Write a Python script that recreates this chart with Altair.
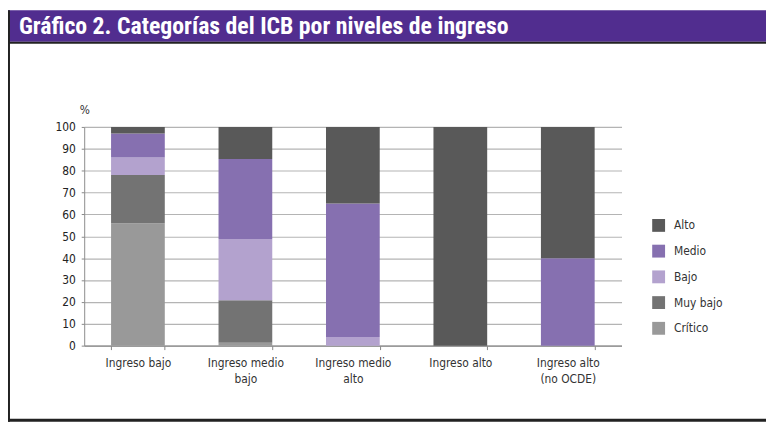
import altair as alt
import pandas as pd

categories = ["Ingreso bajo", "Ingreso medio\nbajo", "Ingreso medio\nalto", "Ingreso alto", "Ingreso alto\n(no OCDE)"]
series = ["Crítico", "Muy bajo", "Bajo", "Medio", "Alto"]
critico = [56, 1.3, 0, 0, 0]
muy_bajo = [22, 19.5, 0, 0, 0]
bajo = [8, 28, 4, 0, 0]
medio = [11, 36.5, 61, 0, 40]
alto = [3, 14.7, 35, 100, 60]
y_ticks = list(range(0, 101, 10))
title_text = "Gráfico 2. Categorías del ICB por niveles de ingreso"

colors = {"Alto": "#595959", "Medio": "#8670B0", "Bajo": "#B3A2CE",
          "Muy bajo": "#737373", "Crítico": "#999999"}
legend_order = ["Alto", "Medio", "Bajo", "Muy bajo", "Crítico"]

rows = []
for si, (name, vals) in enumerate(zip(series, [critico, muy_bajo, bajo, medio, alto])):
    for c, v in zip(categories, vals):
        rows.append({"cat": c, "serie": name, "valor": v, "ord": si})
df = pd.DataFrame(rows)

FONT = "Liberation Sans Narrow, DejaVu Sans Condensed, Roboto, sans-serif"
TFONT = "Roboto Condensed, Liberation Sans Narrow, Roboto, sans-serif"
W, H = 543, 221
PL, PT, PR, PB = 77, 118, 146, 77
one = pd.DataFrame({"a": [0]})

bars = alt.Chart(df).mark_bar().encode(
    x=alt.X("cat:N", sort=categories, title=None,
            scale=alt.Scale(paddingInner=0.5, paddingOuter=0.25),
            axis=alt.Axis(labelAngle=0, tickBand="extent", labelExpr="split(datum.label, '\\n')",
                          labelFont=FONT, labelFontSize=12, labelColor="#333333",
                          labelPadding=8, tickSize=4, tickColor="#888888",
                          domainColor="#8c8c8c", domainWidth=1.5, grid=False,
                          labelLineHeight=16)),
    y=alt.Y("valor:Q", stack="zero",
            scale=alt.Scale(domain=[0, 100], nice=False),
            axis=alt.Axis(values=y_ticks, title="%", titleAngle=0, titleX=0, titleY=-11,
                          titleAlign="center", titleFont=FONT, titleFontSize=12,
                          titleFontWeight="normal", titleColor="#333333",
                          labelFont=FONT, labelFontSize=12, labelColor="#222222",
                          labelPadding=6, tickSize=3, tickColor="#888888",
                          domainColor="#8c8c8c", gridColor="#b4b4b4", gridWidth=1.2)),
    color=alt.Color("serie:N",
                    scale=alt.Scale(domain=legend_order, range=[colors[s] for s in legend_order]),
                    legend=alt.Legend(title=None, orient="none", legendX=574, legendY=93,
                                      symbolType="square", symbolSize=169, symbolStrokeWidth=0,
                                      labelFont=FONT, labelFontSize=12, labelColor="#333333",
                                      rowPadding=13, labelOffset=9)),
    order=alt.Order("ord:Q", sort="ascending"),
)

band = alt.Chart(one).mark_rect(color="#512D8F").encode(
    x=alt.value(-PL), x2=alt.value(W + PR), y=alt.value(-PT), y2=alt.value(-86))
band_line = alt.Chart(one).mark_rect(color="#222222").encode(
    x=alt.value(-PL), x2=alt.value(W + PR), y=alt.value(-86), y2=alt.value(-84))
left_line = alt.Chart(one).mark_rect(color="#222222").encode(
    x=alt.value(-PL), x2=alt.value(-PL + 2), y=alt.value(-PT), y2=alt.value(H + PB))
bottom_line = alt.Chart(one).mark_rect(color="#222222").encode(
    x=alt.value(-PL), x2=alt.value(W + PR), y=alt.value(H + PB - 3), y2=alt.value(H + PB))
title = alt.Chart(one).mark_text(color="white", font=TFONT, fontSize=24, fontWeight="bold",
                                 align="left", baseline="alphabetic").encode(
    x=alt.value(-66), y=alt.value(-94), text=alt.value(title_text))

chart = alt.layer(band, band_line, left_line, bottom_line, title, bars).properties(
    width=W, height=H,
    autosize=alt.AutoSizeParams(type="none"),
    padding={"left": PL, "top": PT, "right": PR, "bottom": PB},
    background="white",
).configure_view(strokeWidth=0)

chart.save("out.html", embed_options={"renderer": "svg", "actions": False})
